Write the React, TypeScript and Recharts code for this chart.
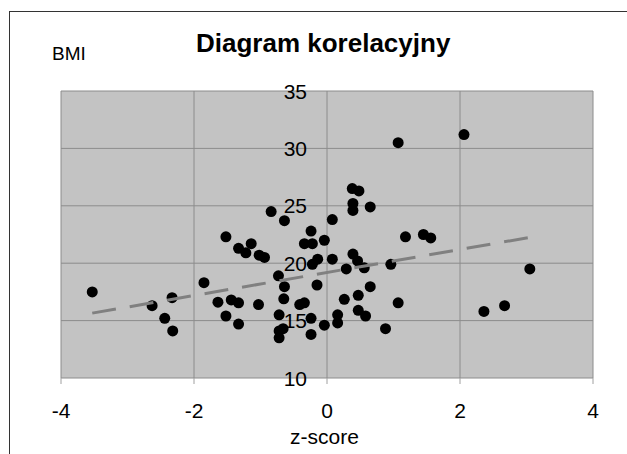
import React from 'react';
import { ScatterChart, Scatter, XAxis, YAxis, CartesianGrid } from 'recharts';

const zScores = [
  -3.53, -2.63, -2.33, -2.44, -2.32, -1.85, -1.52, -1.33, -1.22, -1.14,
  -1.02, -0.94, -1.64, -1.44, -1.33, -1.52, -1.33, -1.03, -0.84, -0.64,
  -0.73, -0.64, -0.65, -0.41, -0.34, -0.72, -0.72, -0.72, -0.66, -0.24,
  -0.24, -0.04, 0.16, 0.16, 0.26, -0.24, -0.34, -0.22, -0.04, -0.22,
  -0.14, 0.08, -0.15, 0.08, 0.38, 0.48, 0.39, 0.39, 0.65, 0.39,
  0.46, 0.56, 0.29, 0.96, 0.65, 0.47, 1.07, 0.47, 0.58, 0.88,
  1.18, 1.45, 1.56, 1.07, 2.06, 3.05, 2.36, 2.67,
];
const bmiValues = [
  17.5, 16.3, 17.0, 15.2, 14.1, 18.3, 22.3, 21.3, 20.9, 21.7,
  20.7, 20.5, 16.6, 16.8, 16.55, 15.4, 14.7, 16.4, 24.5, 23.7,
  18.9, 17.95, 16.9, 16.4, 16.55, 15.5, 14.1, 13.5, 14.3, 15.2,
  13.8, 14.6, 15.5, 14.8, 16.85, 22.8, 21.7, 21.7, 22.0, 19.9,
  20.35, 20.35, 18.1, 23.8, 26.5, 26.3, 25.2, 24.6, 24.9, 20.8,
  20.2, 19.6, 19.5, 19.9, 17.95, 17.2, 16.55, 15.9, 15.4, 14.3,
  22.3, 22.5, 22.2, 30.5, 31.2, 19.5, 15.8, 16.3,
];
const trendX = [-3.53, 3.07];
const trendY = [15.65, 22.27];
const xTicks = [-4, -2, 0, 2, 4];
const yTicks = [10, 15, 20, 25, 30, 35];

const points = zScores.map((x, i) => ({ x, y: bmiValues[i] }));
const trend = trendX.map((x, i) => ({ x, y: trendY[i] }));

const FONT = '"Liberation Sans", Arial, sans-serif';
const PLOT_LEFT = 61;
const Y_LABEL_RIGHT = 307;

const Dot = (props: any) => <circle cx={props.cx} cy={props.cy} r={5.5} fill="#000" />;
const NoDot = () => <g />;

const renderYTick = (props: any) => {
  const { y, payload } = props;
  return (
    <text x={Y_LABEL_RIGHT} y={y} dy="0.36em" textAnchor="end" fontSize={21} fill="#000" fontFamily={FONT}>
      {payload.value}
    </text>
  );
};

export default function App() {
  return (
    <div style={{ position: 'absolute', left: 0, top: 0, width: 627, height: 454, overflow: 'hidden', background: '#fff', fontFamily: FONT }}>
      <div style={{ position: 'absolute', left: 9, top: 11, width: 700, height: 500, border: '1.5px solid #333', boxSizing: 'border-box' }} />
      <div style={{ position: 'absolute', left: 0, top: 0 }}>
        <ScatterChart width={627} height={454} margin={{ top: 91, right: 34, bottom: 0, left: PLOT_LEFT - 10 }}>
          <CartesianGrid fill="#c3c3c3" stroke="#8c8c8c" strokeWidth={1} />
          <XAxis
            type="number"
            dataKey="x"
            domain={[-4, 4]}
            ticks={xTicks}
            interval={0}
            height={76}
            axisLine={false}
            tickLine={{ stroke: '#a0a0a0' }}
            tickSize={6}
            tickMargin={19}
            tick={{ fill: '#000', fontSize: 21, fontFamily: FONT }}
          />
          <YAxis
            type="number"
            dataKey="y"
            domain={[10, 35]}
            ticks={yTicks}
            interval={0}
            width={10}
            axisLine={false}
            tickLine={false}
            tick={renderYTick}
          />
          <Scatter data={points} shape={Dot} isAnimationActive={false} />
          <Scatter
            data={trend}
            shape={NoDot}
            line={{ stroke: '#808080', strokeWidth: 3, strokeDasharray: '24 14' }}
            isAnimationActive={false}
          />
        </ScatterChart>
      </div>
      <div style={{ position: 'absolute', left: 196, top: 28, fontSize: 26, fontWeight: 'bold', lineHeight: '30px', whiteSpace: 'nowrap' }}>
        Diagram korelacyjny
      </div>
      <div style={{ position: 'absolute', left: 52, top: 44, fontSize: 19, lineHeight: '20px', whiteSpace: 'nowrap' }}>BMI</div>
      <div style={{ position: 'absolute', left: 290, top: 426, fontSize: 21, lineHeight: '22px', whiteSpace: 'nowrap' }}>z-score</div>
    </div>
  );
}
